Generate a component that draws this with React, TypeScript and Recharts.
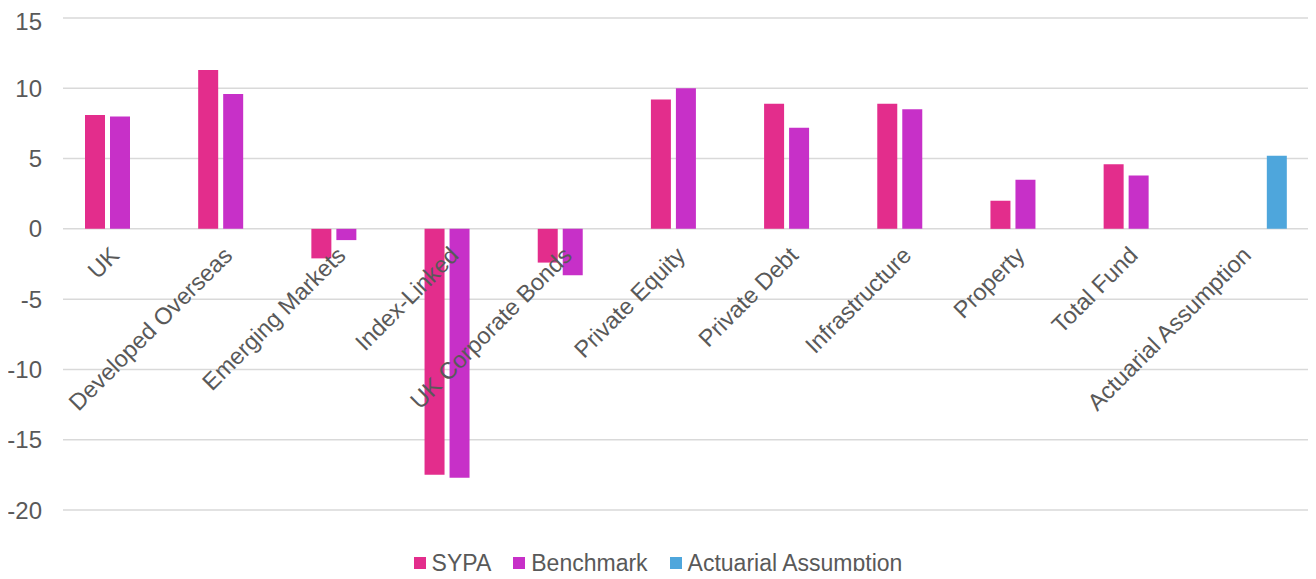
import React from 'react';
import {
  Bar,
  CartesianGrid,
  ComposedChart,
  LabelList,
  Legend,
  Line,
  XAxis,
  YAxis,
} from 'recharts';

const categories = [
  'UK',
  'Developed Overseas',
  'Emerging Markets',
  'Index-Linked',
  'UK Corporate Bonds',
  'Private Equity',
  'Private Debt',
  'Infrastructure',
  'Property',
  'Total Fund',
  'Actuarial Assumption',
];

const sypa = [8.1, 11.3, -2.1, -17.5, -2.4, 9.2, 8.9, 8.9, 2.0, 4.6, null];
const benchmark = [8.0, 9.6, -0.8, -17.7, -3.3, 10.0, 7.2, 8.5, 3.5, 3.8, null];
const actuarial = [null, null, null, null, null, null, null, null, null, null, 5.2];

const yTicks = [-20, -15, -10, -5, 0, 5, 10, 15];

const colors = {
  sypa: '#E32D8C',
  benchmark: '#C730C8',
  actuarial: '#4EA6DC',
};

const FONT = '"Liberation Sans", Arial, sans-serif';
const TEXT = '#595959';

const data = categories.map((name, i) => ({
  name,
  sypa: sypa[i],
  benchmark: benchmark[i],
  actuarial: actuarial[i],
  axis: 0,
}));

// category names sit on the zero line, rotated like Excel does
const CategoryLabel = (props: any) => {
  const { x, y, value } = props;
  return (
    <text
      x={x + 1}
      y={y + 28}
      transform={`rotate(-45, ${x + 1}, ${y + 28})`}
      textAnchor="end"
      fill={TEXT}
      fontSize={23.5}
      fontFamily={FONT}
    >
      {value}
    </text>
  );
};

const legendItems = [
  { name: 'SYPA', color: colors.sypa },
  { name: 'Benchmark', color: colors.benchmark },
  { name: 'Actuarial Assumption', color: colors.actuarial },
];

const ChartLegend = () => (
  <div
    style={{
      display: 'flex',
      justifyContent: 'center',
      alignItems: 'center',
      height: 16,
      fontFamily: FONT,
      fontSize: 23,
      color: TEXT,
    }}
  >
    {legendItems.map((item, i) => (
      <div
        key={item.name}
        style={{ display: 'flex', alignItems: 'center', marginRight: i < legendItems.length - 1 ? 22 : 0 }}
      >
        <span
          style={{ width: 12, height: 12, background: item.color, marginRight: 6, display: 'inline-block' }}
        />
        <span style={{ lineHeight: '16px' }}>{item.name}</span>
      </div>
    ))}
  </div>
);

export default function App() {
  return (
    <ComposedChart
      width={1300}
      height={563}
      data={data}
      margin={{ top: 10, right: 0, left: 0, bottom: 0 }}
      barSize={20}
      barGap={5}
    >
      <CartesianGrid vertical={false} stroke="#d9d9d9" strokeWidth={1.5} />
      <XAxis dataKey="name" tick={false} axisLine={false} tickLine={false} height={45} />
      <YAxis
        domain={[-20, 15]}
        ticks={yTicks}
        width={55}
        axisLine={false}
        tickLine={false}
        tickSize={0}
        tickMargin={21}
        tick={{ fill: TEXT, fontSize: 24, fontFamily: FONT }}
      />
      <Legend content={<ChartLegend />} verticalAlign="bottom" />
      <Bar dataKey="sypa" name="SYPA" fill={colors.sypa} isAnimationActive={false} />
      <Bar dataKey="benchmark" name="Benchmark" fill={colors.benchmark} isAnimationActive={false} />
      <Bar
        dataKey="actuarial"
        name="Actuarial Assumption"
        fill={colors.actuarial}
        isAnimationActive={false}
      />
      <Line
        dataKey="axis"
        stroke="none"
        dot={false}
        activeDot={false}
        legendType="none"
        isAnimationActive={false}
      >
        <LabelList dataKey="name" content={<CategoryLabel />} />
      </Line>
    </ComposedChart>
  );
}
